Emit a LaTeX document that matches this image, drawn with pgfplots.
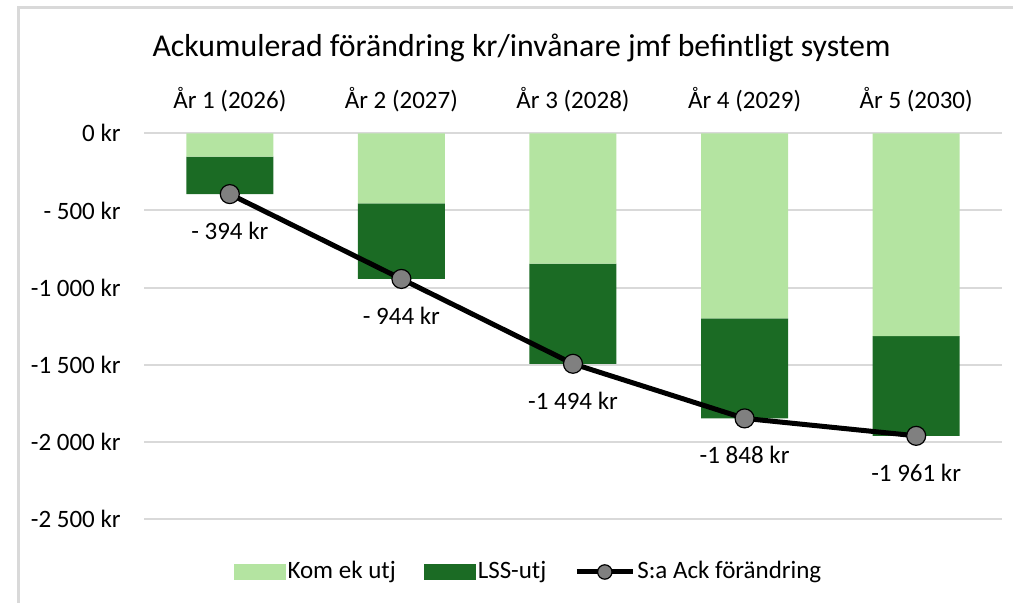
\documentclass[border=0pt]{standalone}
\usepackage{pgfplots}
\pgfplotsset{compat=1.18}
\usepackage{fontspec}
\setmainfont{Carlito}
\definecolor{lightg}{HTML}{B4E4A1}
\definecolor{darkg}{HTML}{1B6B24}
\definecolor{gridc}{HTML}{D9D9D9}
\definecolor{markc}{HTML}{808080}
\begin{document}
\fontsize{12.5pt}{15pt}\selectfont
\begin{tikzpicture}
\path[use as bounding box] (0,0) rectangle (506.5pt,301.5pt);
\draw[gridc, line width=1.5pt] (9pt,0) -- (9pt,297.5pt) -- (506.5pt,297.5pt);
\node[anchor=base, font=\fontsize{15.9pt}{19pt}\selectfont] at (260.75pt,273pt) {Ackumulerad förändring kr/invånare jmf befintligt system};
\pgfplotsset{common/.style={at={(72pt,42pt)}, anchor=south west, scale only axis,
  width=429pt, height=192.85pt, xmin=-0.5, xmax=4.5, ymin=-2500, ymax=0}}
\begin{axis}[common, ybar stacked, bar width=43.5pt,
  axis line style={draw=none}, major tick length=0pt,
  ymajorgrids, grid style={gridc, line width=1pt},
  ytick={-2500,-2000,-1500,-1000,-500,0},
  yticklabels={-2 500 kr,-2 000 kr,-1 500 kr,-1 000 kr,- 500 kr,0 kr},
  xtick={0,1,2,3,4},
  xticklabels={År 1 (2026),År 2 (2027),År 3 (2028),År 4 (2029),År 5 (2030)},
  xticklabel pos=upper,
  yticklabel style={anchor=east, inner sep=0pt, xshift=-11.5pt},
  xticklabel style={anchor=base, inner sep=0pt, yshift=12.5pt},
  legend columns=3,
  legend style={at={(0.448,-0.1374)}, anchor=center, draw=none, fill=none,
    nodes={inner sep=1pt, anchor=west},
    /tikz/every even column/.append style={column sep=13pt}},
  ]
\addplot[fill=lightg, draw=none, legend image code/.code={\fill[lightg] (0pt,-4pt) rectangle (26pt,4pt);}]
  coordinates {(0,-151) (1,-454) (2,-845) (3,-1200) (4,-1314)};
\addlegendentry{Kom ek utj}
\addplot[fill=darkg, draw=none, legend image code/.code={\fill[darkg] (0pt,-4pt) rectangle (26pt,4pt);}]
  coordinates {(0,-243) (1,-490) (2,-649) (3,-648) (4,-647)};
\addlegendentry{LSS-utj}
\addlegendimage{legend image code/.code={
  \draw[black, line width=2.5pt] (0pt,0pt) -- (28pt,0pt);
  \draw[black, line width=0.6pt, fill=markc] (14pt,0pt) circle (3.6pt);}}
\addlegendentry{S:a Ack förändring}
\end{axis}
\begin{axis}[common, hide axis, clip=false]
\addplot[black, line width=2.5pt, mark=*, mark size=4.75pt,
  mark options={fill=markc, draw=black, line width=0.6pt},
  nodes near coords, point meta=explicit symbolic,
  nodes near coords style={anchor=center, yshift=-18.5pt, text=black, font=\fontsize{12.5pt}{15pt}\selectfont}]
  coordinates {(0,-394) [- 394 kr] (1,-944) [- 944 kr] (2,-1494) [-1 494 kr] (3,-1848) [-1 848 kr] (4,-1961) [-1 961 kr]};
\end{axis}
\end{tikzpicture}
\end{document}
